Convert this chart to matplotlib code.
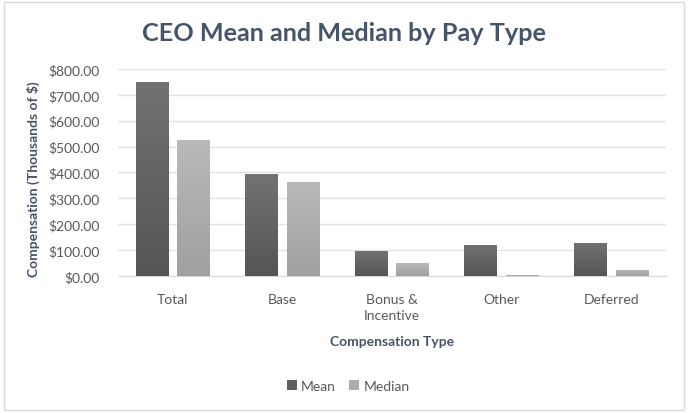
import matplotlib
matplotlib.use("Agg")
import matplotlib.pyplot as plt
import numpy as np
from matplotlib.patches import Rectangle, Patch
from matplotlib.colors import LinearSegmentedColormap

categories = ["Total", "Base", "Bonus &\nIncentive", "Other", "Deferred"]
mean_vals = [750, 394, 97, 120, 127]
median_vals = [525, 363, 50, 5, 24]
yticks = [0, 100, 200, 300, 400, 500, 600, 700, 800]

plt.rcParams['font.family'] = ['Lato', 'DejaVu Sans']

fig = plt.figure(figsize=(6.88, 4.14), dpi=100)
fig.patch.set_facecolor("white")
border = Rectangle((0.006, 0.008), 0.988, 0.984, transform=fig.transFigure,
                   fill=False, edgecolor="#d9d9d9", linewidth=1)
fig.patches.append(border)

ax = fig.add_axes([0.1715, 0.331, 0.7965, 0.500])
x = np.arange(len(categories))
w = 0.30
off = 0.19

def grad_bars(xs, vals, top_c, bot_c, label):
    bars = ax.bar(xs, vals, w, color=top_c, edgecolor="none", label=label, zorder=2)
    grad = np.linspace(0, 1, 256).reshape(-1, 1)
    cmap = LinearSegmentedColormap.from_list("g", [bot_c, top_c])
    for b in bars:
        x0, y0 = b.get_x(), b.get_y()
        bw, bh = b.get_width(), b.get_height()
        im = ax.imshow(grad, extent=[x0, x0 + bw, y0, y0 + bh], origin="lower",
                       cmap=cmap, aspect="auto", zorder=3)
        im.set_clip_path(b)
    return bars

grad_bars(x - off, mean_vals, "#727272", "#555555", "Mean")
grad_bars(x + off, median_vals, "#b9b9b9", "#a0a0a0", "Median")

ax.set_xlim(-0.5, len(categories) - 0.5)
ax.set_ylim(0, 800)
ax.set_yticks(yticks)
ax.set_yticklabels([f"${v:.2f}" for v in yticks])
ax.set_xticks(x)
ax.set_xticklabels(categories, linespacing=1.45)
ax.tick_params(axis="both", length=0, colors="#595959", labelsize=10)
ax.tick_params(axis="x", pad=12)
ax.tick_params(axis="y", pad=13)
ax.grid(axis="y", color="#e3e3e3", linewidth=1, zorder=0)
ax.set_axisbelow(True)
for s in ["top", "right", "left"]:
    ax.spines[s].set_visible(False)
ax.spines["bottom"].set_color("#d9d9d9")

ax.set_ylabel("Compensation (Thousands of $)", fontsize=10, fontweight="bold",
              color="#44546a")
ax.yaxis.set_label_coords(-0.142, 0.47)
ax.set_xlabel("Compensation Type", fontsize=10, fontweight="bold",
              color="#44546a", labelpad=10)

fig.text(0.5, 0.918, "CEO Mean and Median by Pay Type", ha="center", va="center",
         fontsize=18.2, fontweight="bold", color="#44546a")

handles = [Patch(facecolor="#606060"), Patch(facecolor="#adadad")]
fig.legend(handles, ["Mean", "Median"], loc="center", bbox_to_anchor=(0.506, 0.066),
           ncol=2, frameon=False, fontsize=10, labelcolor="#595959",
           handlelength=0.7, handleheight=0.7, handletextpad=0.3, columnspacing=1.0)

fig.savefig("out.png", dpi=100, facecolor="white")
